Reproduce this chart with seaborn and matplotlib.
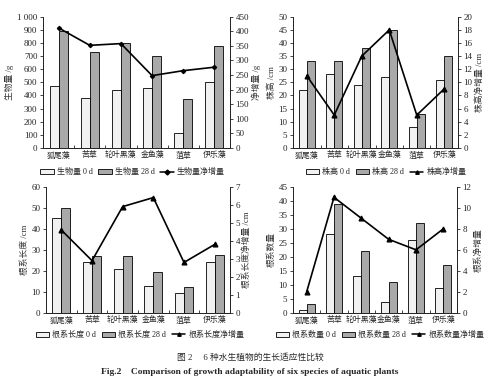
import numpy as np
import pandas as pd
import matplotlib
matplotlib.use('Agg')
import matplotlib.pyplot as plt
import seaborn as sns
from matplotlib.patches import Patch
from matplotlib.lines import Line2D
from matplotlib.ticker import FuncFormatter, MultipleLocator, FixedLocator

# species on the x axis
species = ['狐尾藻', '苦草', '轮叶黑藻', '金鱼藻', '菹草', '伊乐藻']

# biomass (g)
biomass_0d = [470, 380, 440, 455, 110, 500]
biomass_28d = [890, 735, 800, 700, 375, 775]
biomass_net = [412, 352, 358, 248, 265, 277]

# plant height (cm)
height_0d = [22, 28, 24, 27, 8, 26]
height_28d = [33, 33, 38, 45, 13, 35]
height_net = [11, 5, 14, 18, 5, 9]

# root length (cm)
rootlen_0d = [45, 24, 21, 13, 9.5, 24]
rootlen_28d = [50, 27, 27, 19.5, 12.5, 27.5]
rootlen_net = [4.6, 2.9, 5.9, 6.4, 2.8, 3.8]

# root number
rootnum_0d = [1, 28, 13, 4, 26, 9]
rootnum_28d = [3, 39, 22, 11, 32, 17]
rootnum_net = [2, 11, 9, 7, 6, 8]

sns.set_style('ticks')
plt.rcParams['font.family'] = ['Liberation Serif', 'Noto Sans CJK SC']
plt.rcParams['axes.linewidth'] = 0.7

fig = plt.figure(figsize=(5, 3.82), dpi=100)

panels = [
    dict(rect=[0.086, 0.613, 0.374, 0.343], v0=biomass_0d, v28=biomass_28d, net=biomass_net,
         name='生物量', ylab='生物量 /g', ylab2='净增量 /g', ylim=(0, 1000), step=100,
         ylim2=(0, 450), step2=50, marker='D', leg=(0.265, 0.549), thousands=True),
    dict(rect=[0.586, 0.613, 0.330, 0.343], v0=height_0d, v28=height_28d, net=height_net,
         name='株高', ylab='株高 /cm', ylab2='株高净增量 /cm', ylim=(0, 50), step=5,
         ylim2=(0, 20), step2=2, marker='^', leg=(0.772, 0.549), thousands=False),
    dict(rect=[0.092, 0.181, 0.368, 0.330], v0=rootlen_0d, v28=rootlen_28d, net=rootlen_net,
         name='根系长度', ylab='根系长度 /cm', ylab2='根系长度净增量 /cm', ylim=(0, 60), step=10,
         ylim2=(0, 7), step2=1, marker='^', leg=(0.28, 0.123), thousands=False),
    dict(rect=[0.586, 0.181, 0.328, 0.330], v0=rootnum_0d, v28=rootnum_28d, net=rootnum_net,
         name='根系数量', ylab='根系数量', ylab2='根系净增量', ylim=(0, 45), step=5,
         ylim2=(0, 12), step2=2, marker='^', leg=(0.76, 0.123), thousands=False),
]

bar_colors = ['#f1f1f1', '#a9a9a9']

for p in panels:
    ax = fig.add_axes(p['rect'])
    df = pd.DataFrame({
        'species': species * 2,
        'value': p['v0'] + p['v28'],
        'day': ['0 d'] * 6 + ['28 d'] * 6,
    })
    sns.barplot(data=df, x='species', y='value', hue='day', palette=bar_colors,
                edgecolor='black', linewidth=0.6, width=0.58, gap=0,
                legend=False, ax=ax)
    ax.set_ylim(*p['ylim'])
    ax.yaxis.set_major_locator(MultipleLocator(p['step']))
    if p['thousands']:
        ax.yaxis.set_major_formatter(FuncFormatter(
            lambda v, pos: f'{int(v):,}'.replace(',', ' ')))
    ax.set_xlabel('')
    ax.set_ylabel(p['ylab'], fontsize=6.3, color='#333333', labelpad=2)
    ax.tick_params(axis='y', direction='out', length=2.5, width=0.6, labelsize=6.5, pad=1.5)
    ax.tick_params(axis='x', length=0, labelsize=5.7, pad=2.5)
    ax.xaxis.set_minor_locator(FixedLocator(np.arange(-0.5, 6, 1)))
    ax.tick_params(axis='x', which='minor', direction='in', length=2, width=0.6)
    ax.spines['top'].set_visible(False)

    ax2 = ax.twinx()
    sns.pointplot(x=species, y=p['net'], color='black', markers=p['marker'],
                  markersize=3.5 if p['marker'] == '^' else 2.2, linewidth=1.2,
                  errorbar=None, ax=ax2)
    ax2.set_xlim(-0.5, 5.5)
    ax2.set_ylim(*p['ylim2'])
    ax2.yaxis.set_major_locator(MultipleLocator(p['step2']))
    ax2.set_ylabel(p['ylab2'], fontsize=6.3, color='#333333', labelpad=2)
    ax2.tick_params(axis='y', direction='out', length=2.5, width=0.6, labelsize=6.5, pad=1.5)
    ax2.spines['top'].set_visible(False)

    handles = [
        Patch(facecolor=bar_colors[0], edgecolor='black', linewidth=0.6),
        Patch(facecolor=bar_colors[1], edgecolor='black', linewidth=0.6),
        Line2D([], [], color='black', marker=p['marker'], markersize=2.5, linewidth=1.1),
    ]
    labels = [p['name'] + ' 0 d', p['name'] + ' 28 d', p['name'] + '净增量']
    fig.legend(handles, labels, loc='center', bbox_to_anchor=p['leg'], ncol=3,
               frameon=False, fontsize=5.8, handlelength=1.7, handleheight=0.55,
               columnspacing=0.7, handletextpad=0.35, borderpad=0)

fig.text(0.5, 0.063, '图 2\u3000 6 种水生植物的生长适应性比较', ha='center', va='center',
         fontsize=6.3)
fig.text(0.5, 0.027, 'Fig.2    Comparison of growth adaptability of six species of aquatic plants',
         ha='center', va='center', fontsize=6.8, fontweight='bold')

fig.savefig('out.png', dpi=100)
